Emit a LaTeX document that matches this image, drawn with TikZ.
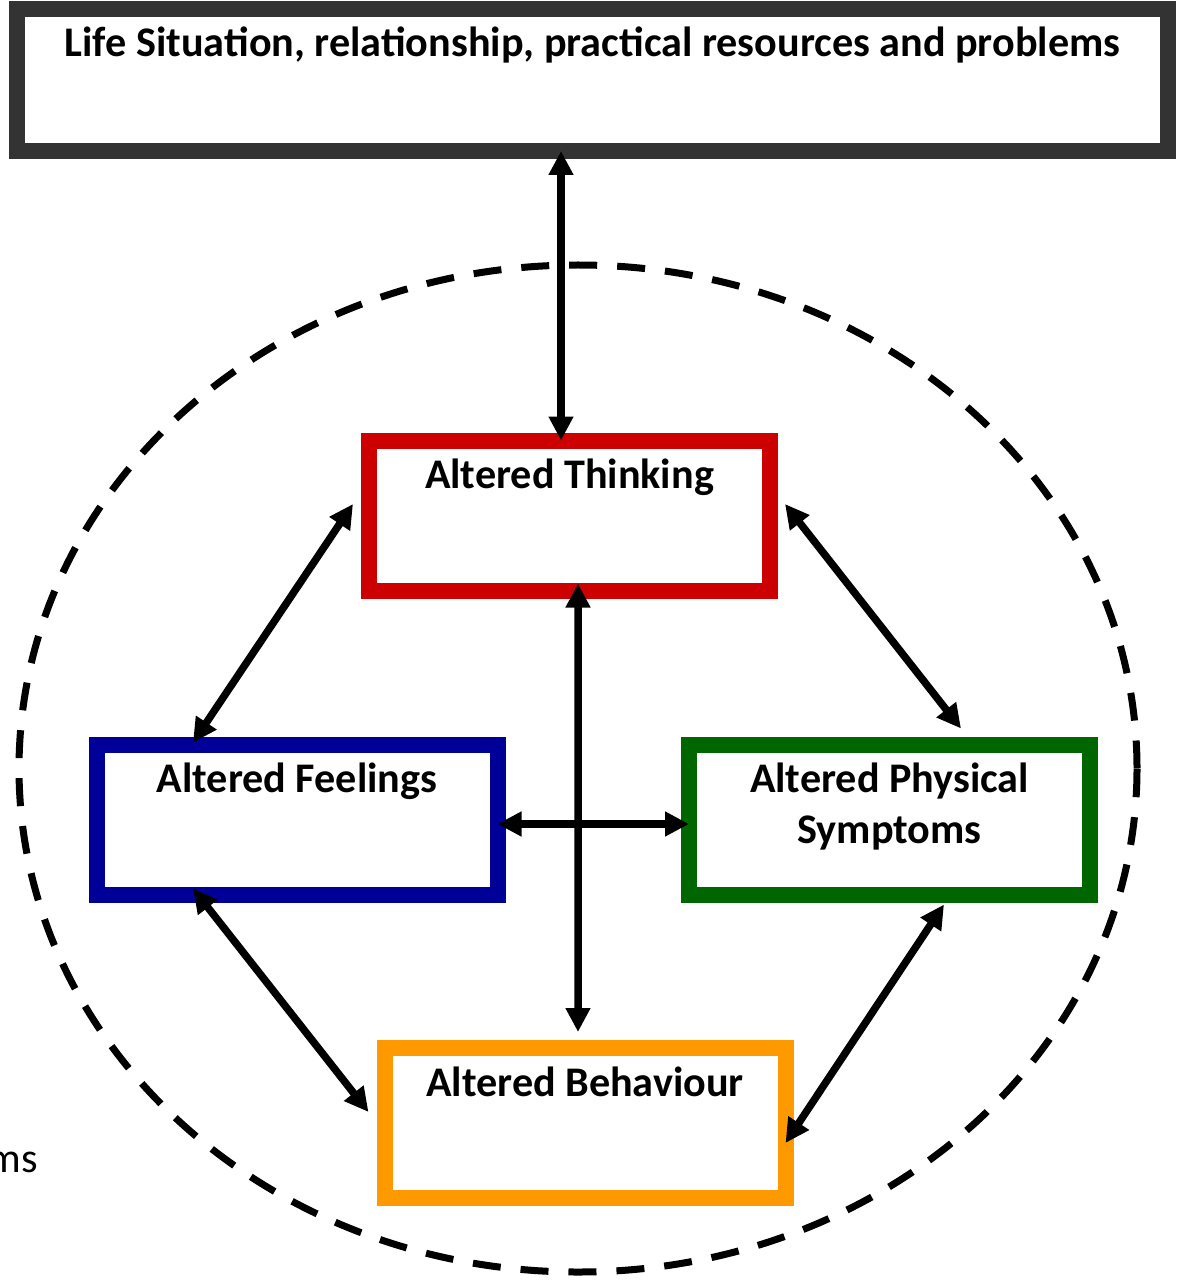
\documentclass[tikz,border=0pt]{standalone}
\usepackage{fontspec}
\setmainfont{Carlito}
\usepackage{tikz}
\usetikzlibrary{positioning,arrows.meta}

\definecolor{lifegray}{HTML}{333333}
\definecolor{thinkred}{HTML}{CC0000}
\definecolor{feelblue}{HTML}{000099}
\definecolor{physgreen}{HTML}{006600}
\definecolor{behavorange}{HTML}{FF9900}

\begin{document}
\begin{tikzpicture}[
  lifebox/.style = {rectangle, draw=lifegray, line width=0.32cm, fill=white,
                    outer sep=0pt, inner xsep=0pt, inner ysep=0.4cm,
                    minimum width=23.02cm, text width=22cm, align=flush center,
                    text height=0.56cm, text depth=1.48cm,
                    font=\fontsize{24}{29.3}\selectfont\bfseries},
  altbox/.style  = {rectangle, line width=0.32cm, fill=white,
                    outer sep=0pt, inner xsep=0pt, inner ysep=0.4cm,
                    minimum width=8.02cm, text width=7.6cm, align=flush center,
                    text height=0.56cm, text depth=1.64cm,
                    font=\fontsize{24}{29.3}\selectfont\bfseries},
  arr/.style     = {{Triangle[length=0.48cm,width=0.47cm]}-{Triangle[length=0.48cm,width=0.47cm]},
                    line width=0.15cm},
  ring/.style    = {line width=0.14cm, dash pattern=on 0.56cm off 0.4cm},
]
\useasboundingbox (0,0) rectangle (23.56,-25.64);
% outer dashed ring
\draw[ring] (11.56,-15.37) ellipse [x radius=11.18cm, y radius=10.07cm];
\node[lifebox]              (life)  at (11.85, -1.60) {Life Situation, relationship, practical resources and problems};
\node[altbox, draw=thinkred]    (think) at (11.39,-10.31) {Altered Thinking};
\node[altbox, draw=feelblue]    (feel)  at ( 5.94,-16.39) {Altered Feelings};
\node[altbox, draw=physgreen]   (phys)  at (17.79,-16.39) {Altered Physical\\Symptoms};
\node[altbox, draw=behavorange] (behav) at (11.70,-22.46) {Altered Behaviour};
% cut-off text at the left edge
\node[anchor=base east, inner sep=0pt, font=\fontsize{24}{29.3}\selectfont] (cut) at (0.76,-23.44) {ms};
% arrows
\draw[arr] ([xshift=-0.63cm]life.south) -- ([xshift=-0.17cm]think.north);
\draw[arr] ([shift={(0.17,0.14)}]think.south) -- ([shift={(-0.14,0.32)}]behav.north);
\draw[arr] ([yshift=-0.09cm]feel.east) -- ([yshift=-0.09cm]phys.west);
\draw[arr] ([shift={(-0.32,0.23)}]think.west) -- ([shift={(-2.08,0.04)}]feel.north);
\draw[arr] ([shift={(0.30,0.23)}]think.east) -- ([shift={(1.43,0.32)}]phys.north);
\draw[arr] ([shift={(-2.08,0.12)}]feel.south) -- ([shift={(-0.32,0.22)}]behav.west);
\draw[arr] ([shift={(1.09,-0.20)}]phys.south) -- ([shift={(0,-0.40)}]behav.east);
\end{tikzpicture}
\end{document}
